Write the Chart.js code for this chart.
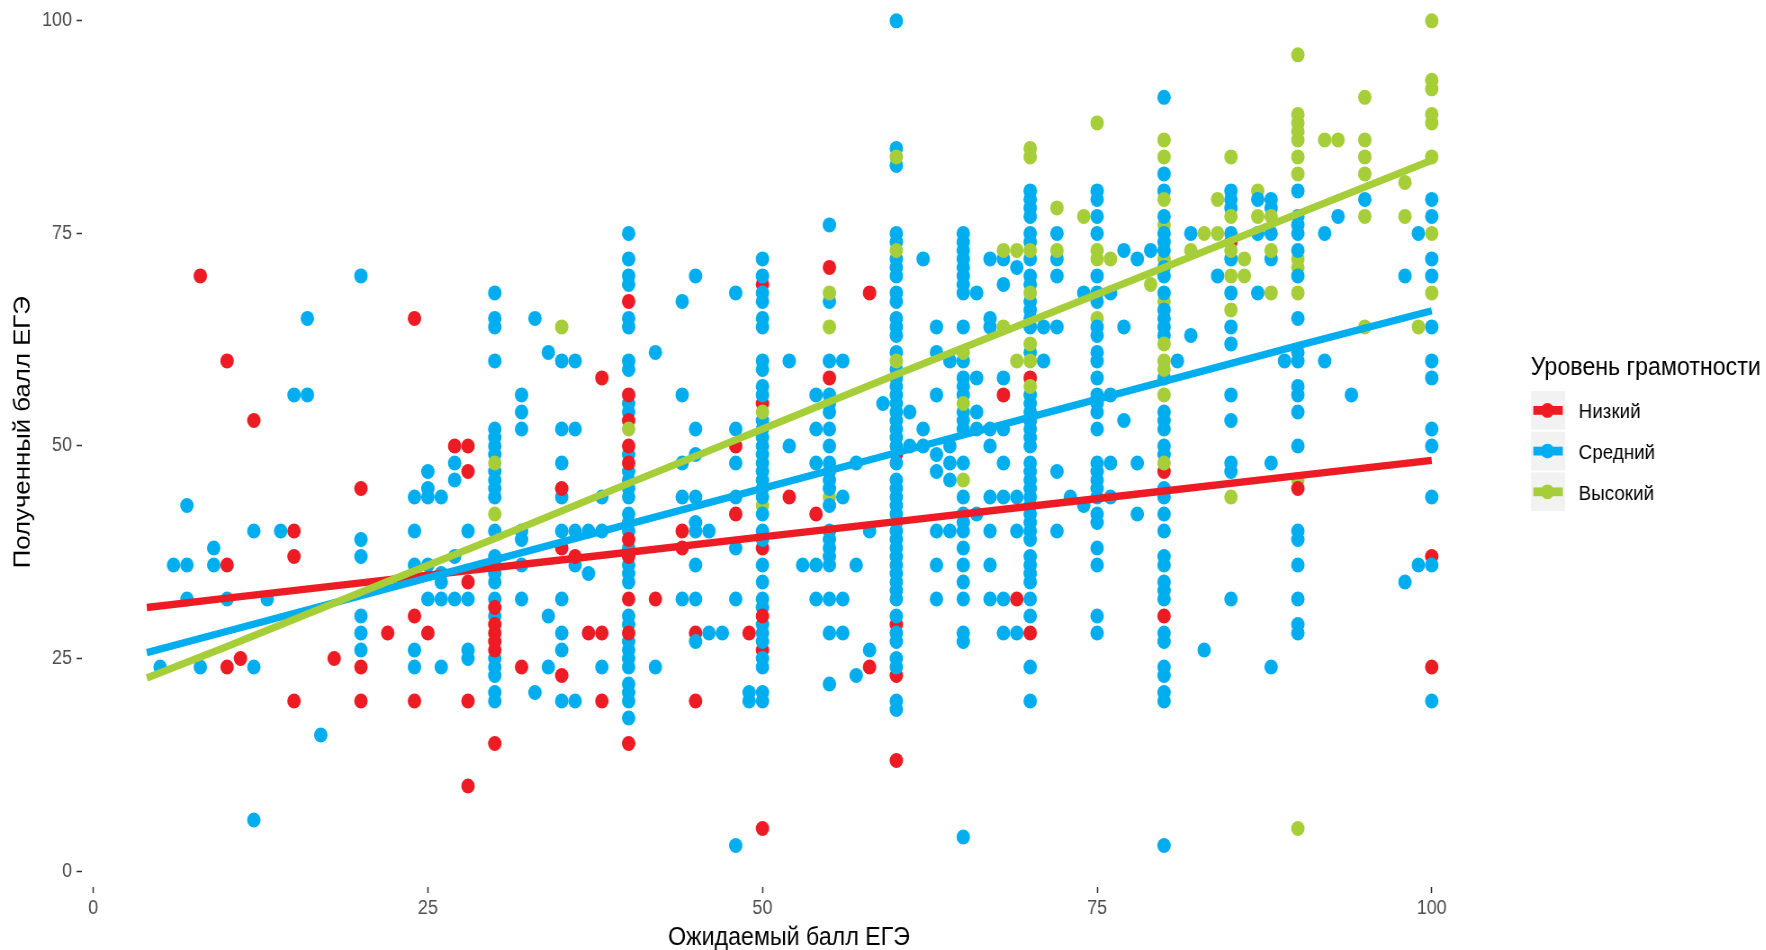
<!DOCTYPE html>
<html>
<head>
<meta charset="utf-8">
<style>
  html, body { margin: 0; width: 1766px; height: 950px; overflow: hidden; background: #fff; }
  /* the original picture is squeezed sideways, so the whole chart is too */
  #chart { position: absolute; left: 0; top: -30px; transform: scaleX(0.9); transform-origin: 0 0; }
</style>
<script src="https://cdn.jsdelivr.net/npm/chart.js@4"></script>
</head>
<body>
<canvas id="chart" width="1963" height="983"></canvas>
<script>
const xTicks = [0, 25, 50, 75, 100];
const yTicks = [0, 25, 50, 75, 100];
const seriesNames = ['Низкий', 'Средний', 'Высокий'];
const legendTitle = 'Уровень грамотности';
const xTitle = 'Ожидаемый балл ЕГЭ';
const yTitle = 'Полученный балл ЕГЭ';

// [expected score, [received scores]]
const lowScores = [
  [8, [70]], [10, [60, 36, 24]], [11, [25]], [12, [53]], [15, [40, 37, 20]], [18, [25]],
  [20, [45, 24, 20]], [22, [28]], [24, [65, 30, 20]], [25, [28]], [27, [50]],
  [28, [50, 47, 34, 20, 10]], [30, [31, 29, 28, 27, 26, 15]], [32, [24]], [35, [45, 38, 23]],
  [36, [37]], [37, [28]], [38, [58, 28, 20]], [40, [67, 56, 53, 50, 48, 39, 37, 32, 28, 15]],
  [42, [32]], [44, [40, 38]], [45, [20]], [48, [50, 42]], [49, [28]], [50, [30, 5]], [52, [44]],
  [54, [42]], [55, [71, 58]], [58, [68, 24]], [60, [13]], [68, [56]], [69, [32]], [70, [58, 28]],
  [80, [47, 30]], [90, [45]], [100, [24]]
];
// low points that sit underneath the blue ones
const lowCovered = [
  [45, [28]], [50, [69, 55, 38, 26]], [60, [49, 29, 23]], [70, [53]], [85, [74]], [100, [37]]
];
const midScores = [
  [5, [24]], [6, [36]], [7, [43, 36, 32]], [8, [24]], [9, [38, 36]], [10, [32]], [12, [40, 24, 6]],
  [13, [32]], [14, [40]], [15, [56]], [16, [65, 56]], [17, [16]], [20, [70, 39, 37, 30, 28, 26]],
  [24, [44, 40, 36, 26, 24]], [25, [47, 45, 44, 36, 32]], [26, [44, 35, 34, 32, 24]],
  [27, [48, 46, 37, 32]], [28, [40, 32, 26, 25]],
  [30, [68, 65, 64, 60, 52, 51, 50, 49, 47, 46, 45, 44, 40, 37, 36, 35, 34, 32, 30, 25, 24, 23, 21, 20]],
  [32, [56, 54, 52, 40, 39, 36, 32]], [33, [65, 21]], [34, [61, 30, 24]],
  [35, [60, 52, 48, 44, 40, 32, 28, 26, 20]], [36, [60, 52, 40, 36, 20]], [37, [40, 35]], [38, [44, 40, 24]],
  [40, [75, 72, 70, 69, 65, 64, 60, 59, 55, 54, 49, 47, 46, 45, 44, 42, 41, 40, 38, 36, 35, 34, 30, 29, 27, 26, 25, 24, 22, 21, 20, 18]],
  [42, [61, 24]], [44, [67, 56, 48, 44, 32]], [45, [70, 52, 49, 44, 41, 40, 36, 32, 27]], [46, [40, 28]],
  [47, [28]], [48, [68, 52, 48, 44, 38, 32, 3]], [49, [21, 20]],
  [50, [72, 70, 68, 67, 65, 64, 60, 59, 57, 56, 53, 52, 51, 50, 49, 48, 47, 46, 45, 44, 42, 40, 39, 36, 34, 32, 31, 29, 28, 27, 25, 24, 21, 20]],
  [52, [60, 50]], [53, [36]], [54, [56, 52, 48, 36, 32]],
  [55, [76, 67, 60, 56, 55, 54, 52, 50, 48, 47, 46, 45, 43, 40, 39, 38, 37, 36, 32, 28, 22]],
  [56, [60, 44, 32, 28]], [57, [48, 36, 23]], [58, [40, 26]], [59, [55]],
  [60, [100, 85, 83, 75, 74, 72, 71, 70, 68, 67, 65, 64, 63, 61, 59, 58, 57, 56, 55, 54, 53, 52, 51, 50, 48, 46, 45, 44, 43, 42, 41, 40, 39, 38, 37, 36, 35, 34, 33, 32, 30, 28, 27, 25, 24, 20, 19]],
  [61, [54, 50]], [62, [72, 52, 50]], [63, [64, 61, 56, 49, 47, 40, 36, 32]], [64, [60, 50, 48, 46, 40]],
  [65, [75, 74, 73, 72, 71, 70, 69, 68, 64, 60, 58, 57, 56, 54, 53, 52, 48, 44, 42, 41, 40, 38, 36, 34, 32, 28, 27, 4]],
  [66, [68, 58, 54, 52, 42]], [67, [72, 65, 64, 52, 50, 44, 40, 36, 32]],
  [68, [72, 69, 58, 52, 48, 44, 32, 28]], [69, [71, 44, 40, 28]],
  [70, [80, 79, 78, 77, 75, 74, 72, 70, 69, 67, 66, 65, 64, 61, 56, 55, 54, 53, 52, 51, 50, 48, 47, 46, 45, 44, 43, 42, 41, 40, 39, 37, 36, 35, 34, 32, 30, 24, 20]],
  [71, [64, 60]], [72, [75, 72, 70, 64, 47, 40]], [73, [44]], [74, [68, 43]],
  [75, [80, 79, 77, 75, 70, 68, 67, 64, 63, 61, 60, 58, 56, 55, 54, 52, 48, 47, 46, 45, 44, 42, 41, 38, 36, 30, 28]],
  [76, [68, 56, 48, 44]], [77, [73, 64, 53]], [78, [72, 48, 42]], [79, [73]],
  [80, [91, 82, 80, 77, 75, 74, 73, 71, 70, 68, 66, 65, 64, 63, 58, 54, 53, 52, 50, 49, 45, 44, 42, 40, 37, 36, 34, 33, 32, 28, 27, 24, 23, 21, 20, 3]],
  [81, [60]], [82, [75, 63]], [83, [26]], [84, [70]],
  [85, [80, 79, 78, 75, 72, 68, 64, 62, 56, 53, 48, 47, 32]], [87, [79, 75, 68]],
  [88, [79, 78, 75, 72, 48, 24]], [89, [60]],
  [90, [80, 77, 76, 75, 73, 70, 65, 61, 60, 57, 56, 54, 50, 40, 39, 36, 32, 29, 28]],
  [92, [75, 60]], [93, [77]], [94, [56]], [95, [79]], [98, [70, 34]], [99, [75, 36]],
  [100, [79, 77, 72, 70, 64, 60, 58, 52, 50, 44, 36, 20]]
];
const highScores = [
  [30, [48, 42]], [35, [64]], [40, [52]], [50, [54]], [55, [68, 64]], [60, [84, 73, 60]],
  [65, [61, 55, 46]], [68, [73, 64]], [69, [73, 60]], [70, [85, 84, 73, 68, 62, 60, 57]], [72, [78, 73]],
  [74, [77]], [75, [88, 73, 72]], [76, [72]], [79, [69]], [80, [86, 84, 79, 62, 60, 59, 56, 48]],
  [82, [73]], [83, [75]], [84, [79, 75]], [85, [84, 77, 73, 70, 66, 44]], [86, [72, 70]], [87, [77]],
  [88, [77, 73, 68]], [90, [96, 89, 88, 87, 86, 84, 82, 68, 5]], [92, [86]], [93, [86]],
  [95, [91, 86, 84, 82, 77, 64]], [98, [81, 77]], [99, [64]], [100, [100, 93, 92, 89, 88, 84, 75, 68]]
];
// high points that sit underneath the blue ones
const highCovered = [
  [50, [43]], [55, [44]], [75, [65]], [80, [76, 72, 67]], [87, [80]], [90, [72, 71, 46]]
];

// fitted lines
const lineX = [4, 10, 20, 30, 40, 50, 60, 70, 80, 90, 100];
const lowLine = [31, 32.1, 33.9, 35.7, 37.5, 39.3, 41.1, 42.9, 44.7, 46.5, 48.3];
const midLine = [25.7, 28.2, 32.4, 36.6, 40.8, 45, 49.2, 53.4, 57.6, 61.8, 65.9];
const highLine = [22.7, 26.4, 32.8, 39.1, 45.6, 52, 58.4, 64.7, 71, 77.3, 83.6];

const colors = ['#ED1C24', '#00AEEF', '#A6CE39'];

function flatten(rows) {
  const out = [];
  rows.forEach(([x, ys]) => ys.forEach(y => out.push({ x, y })));
  return out;
}

function dots(rows, color, order) {
  return { data: flatten(rows), order, showLine: false, pointRadius: 7.5, pointHoverRadius: 7.5,
    pointBorderWidth: 0, pointBackgroundColor: color };
}

function fit(values, color, order) {
  return { data: lineX.map((x, i) => ({ x, y: values[i] })), order, showLine: true, pointRadius: 0,
    borderColor: color, borderWidth: 7.4, tension: 0 };
}

// key boxes on the right
const legendPlugin = {
  id: 'keyBoxes',
  afterDraw(chart) {
    const ctx = chart.ctx;
    ctx.save();
    ctx.textBaseline = 'alphabetic';
    ctx.textAlign = 'left';
    ctx.fillStyle = '#000';
    ctx.font = '25.8px "Liberation Sans"';
    ctx.fillText(legendTitle, 1700.8, 405);
    seriesNames.forEach((name, i) => {
      const top = 421 + i * 40.7;
      const mid = top + 19.4;
      ctx.fillStyle = '#F2F2F2';
      ctx.fillRect(1701.1, top, 38.1, 38.7);
      ctx.fillStyle = colors[i];
      ctx.fillRect(1703.7, mid - 4.4, 32.7, 8.8);
      ctx.beginPath();
      ctx.arc(1719.4, mid, 7.4, 0, Math.PI * 2);
      ctx.fill();
      ctx.fillStyle = '#000';
      ctx.font = '20.9px "Liberation Sans"';
      ctx.fillText(name, 1754.1, mid + 8);
    });
    ctx.restore();
  }
};

function axisStyle(ticks, pad, fitBox) {
  return {
    type: 'linear',
    grid: { drawOnChartArea: false, drawTicks: true, tickLength: 6, tickColor: '#333', tickWidth: 1.5 },
    border: { display: false },
    ticks: { color: '#4D4D4D', font: { family: 'Liberation Sans', size: 20 }, autoSkip: false, maxRotation: 0, padding: pad },
    afterBuildTicks: s => { s.ticks = ticks.map(value => ({ value })); },
    afterFit: s => {
      fitBox(s);
      s.paddingTop = s.paddingBottom = s.paddingLeft = s.paddingRight = 0;
    }
  };
}

new Chart(document.getElementById('chart'), {
  type: 'scatter',
  data: {
    datasets: [
      fit(highLine, colors[2], 1),
      fit(midLine, colors[1], 2),
      fit(lowLine, colors[0], 3),
      dots(highScores, colors[2], 4),
      dots(lowScores, colors[0], 5),
      dots(midScores, colors[1], 6),
      dots(highCovered, colors[2], 7),
      dots(lowCovered, colors[0], 8)
    ]
  },
  options: {
    responsive: false,
    animation: false,
    events: [],
    layout: { padding: { top: 7, right: 300.8, left: 0, bottom: 0 } },
    plugins: { legend: { display: false }, tooltip: { enabled: false } },
    scales: {
      x: {
        ...axisStyle(xTicks, 3, s => { s.height = 66; }),
        min: -0.84,
        max: 104.8,
        title: { display: true, text: xTitle, color: '#000', font: { family: 'Liberation Sans', size: 25.8 }, padding: { top: 0, bottom: 0 } }
      },
      y: {
        ...axisStyle(yTicks, 5, s => { s.width = 91.1; }),
        min: -1.88,
        max: 105.1,
        title: { display: true, text: yTitle, color: '#000', font: { family: 'Liberation Sans', size: 25.8 }, padding: { top: 10, bottom: 0 } }
      }
    }
  },
  plugins: [legendPlugin]
});
</script>
</body>
</html>
